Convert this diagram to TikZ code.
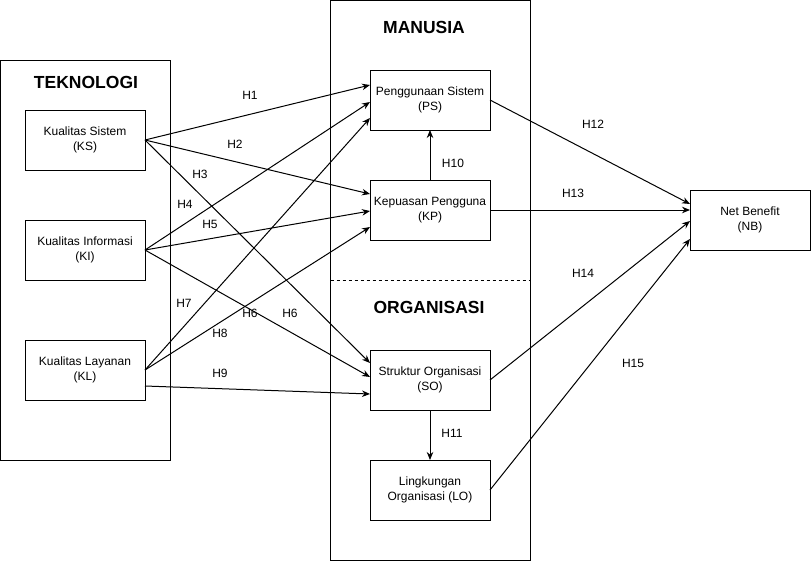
\documentclass[tikz,border=0pt]{standalone}
\usepackage{fontspec}
\setmainfont{Liberation Sans}
\usetikzlibrary{positioning}
\usetikzlibrary{calc}
\usetikzlibrary{arrows.meta}

\begin{document}
\begin{tikzpicture}[x=1pt, y=-1pt, align=center, font=\fontsize{12}{15}\selectfont,
	varbox/.style={rectangle,draw=black,line width=1pt,minimum width=120pt,minimum height=60pt,inner sep=1pt,outer sep=0pt},
	grpbox/.style={rectangle,draw=black,line width=1pt,outer sep=0pt},
	grptitle/.style={font=\fontsize{17.5}{20}\selectfont\bfseries},
	link/.style={line width=1pt,->,>={Stealth[length=8pt,width=6.5pt]}},
	node distance = 50pt]
	\useasboundingbox (0,0) rectangle (811,562);
	\node[grpbox, minimum width=170pt, minimum height=400pt] (teknologi) at (85.5,260) {};
	\node[grpbox, minimum width=200pt, minimum height=560pt] (manusia) at (430.5,280.5) {};
	\coordinate (divider) at (430,280);
	\draw[line width=1pt, dash pattern=on 3pt off 3pt] (manusia.west |- divider) -- (manusia.east |- divider);
	\node[grptitle] (teknologi title) at (86,82) {TEKNOLOGI};
	\node[grptitle] (manusia title) at (424,27) {MANUSIA};
	\node[grptitle] (organisasi title) at (429,307) {ORGANISASI};
	\node[varbox] (ks) at (85,140) {Kualitas Sistem\\(KS)};
	\node[varbox] (ki) [below = of ks] {Kualitas Informasi\\(KI)};
	\node[varbox] (kl) [below = 60pt of ki] {Kualitas Layanan\\(KL)};
	\node[varbox] (ps) at (430,100) {Penggunaan Sistem\\(PS)};
	\node[varbox] (kp) [below = of ps] {Kepuasan Pengguna\\(KP)};
	\node[varbox] (so) at (430,380) {Struktur Organisasi\\(SO)};
	\node[varbox] (lo) [below = of so] {Lingkungan\\Organisasi (LO)};
	\node[varbox] (nb) at (750,220) {Net Benefit\\(NB)};
	\draw[link] (ks.east) -- ($(ps.west)+(0,-15)$);
	\draw[link] (ks.east) -- ($(kp.west)+(0,-16)$);
	\draw[link] (ks.east) -- ($(so.west)+(0,-17)$);
	\draw[link] (ki.east) -- ($(ps.west)+(0,2)$);
	\draw[link] (ki.east) -- ($(kp.west)+(0,1)$);
	\draw[link] (ki.east) -- ($(so.west)+(0,-3)$);
	\draw[link] (kl.east) -- ($(ps.west)+(0,18)$);
	\draw[link] (kl.east) -- ($(kp.west)+(0,17)$);
	\draw[link] ($(kl.east)+(0,16)$) -- ($(so.west)+(0,14)$);
	\draw[link] (kp.north) -- (ps.south);
	\draw[link] (so.south) -- (lo.north);
	\draw[link] (ps.east) -- ($(nb.west)+(0,-16)$);
	\draw[link] (kp.east) -- (kp.east -| nb.west);
	\draw[link] (so.east) -- ($(nb.west)+(0,1)$);
	\draw[link] (lo.east) -- ($(nb.west)+(0,19)$);
	\node (h1) at (250,95) {H1};
	\node (h2) at (235,144) {H2};
	\node (h3) at (200,174) {H3};
	\node (h4) at (185,204) {H4};
	\node (h5) at (210,224) {H5};
	\node (h7) at (184,303) {H7};
	\node (h6a) at (250,313) {H6};
	\node (h6b) at (290,313) {H6};
	\node (h8) at (220,333) {H8};
	\node (h9) at (220,373) {H9};
	\node (h10) at (453,163) {H10};
	\node (h11) at (452,433) {H11};
	\node (h12) at (593,124) {H12};
	\node (h13) at (573,193) {H13};
	\node (h14) at (583,273) {H14};
	\node (h15) at (633,363) {H15};
\end{tikzpicture}
\end{document}
